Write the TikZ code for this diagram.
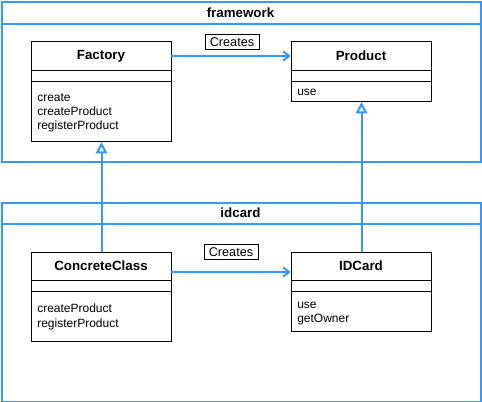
\documentclass[tikz,border=0pt]{standalone}
\usepackage{fontspec}
\setmainfont{Liberation Sans}
\usetikzlibrary{arrows.meta}
\definecolor{umlblue}{HTML}{3399FF}
\tikzset{
  pkg/.style={draw=umlblue,line width=1.5pt,anchor=north west,minimum width=359.25pt,inner sep=0},
  cls/.style={draw,line width=.75pt,fill=white,anchor=north west,minimum width=105pt,inner sep=0},
  ctitle/.style={font=\bfseries,minimum width=105pt,inner sep=0},
  meth/.style={anchor=west,inner sep=0,text height=1.5ex,text depth=.25ex},
  lbl/.style={draw,line width=.75pt,fill=white,minimum width=40.5pt,minimum height=11.25pt,inner sep=0},
  dep/.style={draw=umlblue,line width=1.5pt,-{Straight Barb[length=4.5pt,width=7pt]}},
  inh/.style={draw=umlblue,line width=1.5pt,-{Triangle[open,length=8.5pt,width=8.5pt,fill=white]}}
}
\begin{document}
\begin{tikzpicture}[x=.75pt,y=-.75pt,font=\fontsize{9}{11}\selectfont]
\useasboundingbox(0,0)rectangle(482,402);
% packages
\node[pkg,minimum height=120pt](fw)at(1,1){};\draw[umlblue,line width=1.5pt](1,24)--(480,24);
\node[font=\bfseries](fwT)at(240.5,12.5){framework};
\node[pkg,minimum height=149.25pt](ic)at(1,202){};\draw[umlblue,line width=1.5pt](1,224)--(480,224);
\node[font=\bfseries](icT)at(240.5,213){idcard};
% framework classes
\node[cls,minimum height=75pt](factory)at(31,41){};
\node[ctitle](factoryT)at(101,56){Factory};
\draw(31,70)--(171,70);\draw(31,81)--(171,81);
\node[meth]at(37,97){create};\node[meth]at(37,111){createProduct};\node[meth]at(37,125){registerProduct};
\node[cls,minimum height=45pt](product)at(291,41){};
\node[ctitle](productT)at(361,56){Product};
\draw(291,70)--(431,70);\draw(291,81)--(431,81);
\node[meth]at(297,91){use};
% idcard classes
\node[cls,minimum height=66.75pt](concrete)at(31,252){};
\node[ctitle](concreteT)at(101,266){ConcreteClass};
\draw(31,280)--(171,280);\draw(31,291)--(171,291);
\node[meth]at(37,308){createProduct};\node[meth]at(37,323){registerProduct};
\node[cls,minimum height=59.25pt](idcard)at(291,252){};
\node[ctitle](idcardT)at(361,266){IDCard};
\draw(291,280)--(431,280);\draw(291,291)--(431,291);
\node[meth]at(297,304){use};\node[meth]at(297,318){getOwner};
% relations
\draw[dep](factoryT.east)--(productT.west);
\node[lbl,font=\fontsize{9.5}{11}\selectfont](cr1)at(232,42.5){Creates};
\draw[dep]([yshift=-4.5pt]concreteT.east)--([yshift=-4.5pt]idcardT.west);
\node[lbl,font=\fontsize{9.5}{11}\selectfont](cr2)at(231,252.5){Creates};
\draw[inh](concrete.north)--(factory.south);
\draw[inh](idcard.north)--(product.south);
\end{tikzpicture}
\end{document}
